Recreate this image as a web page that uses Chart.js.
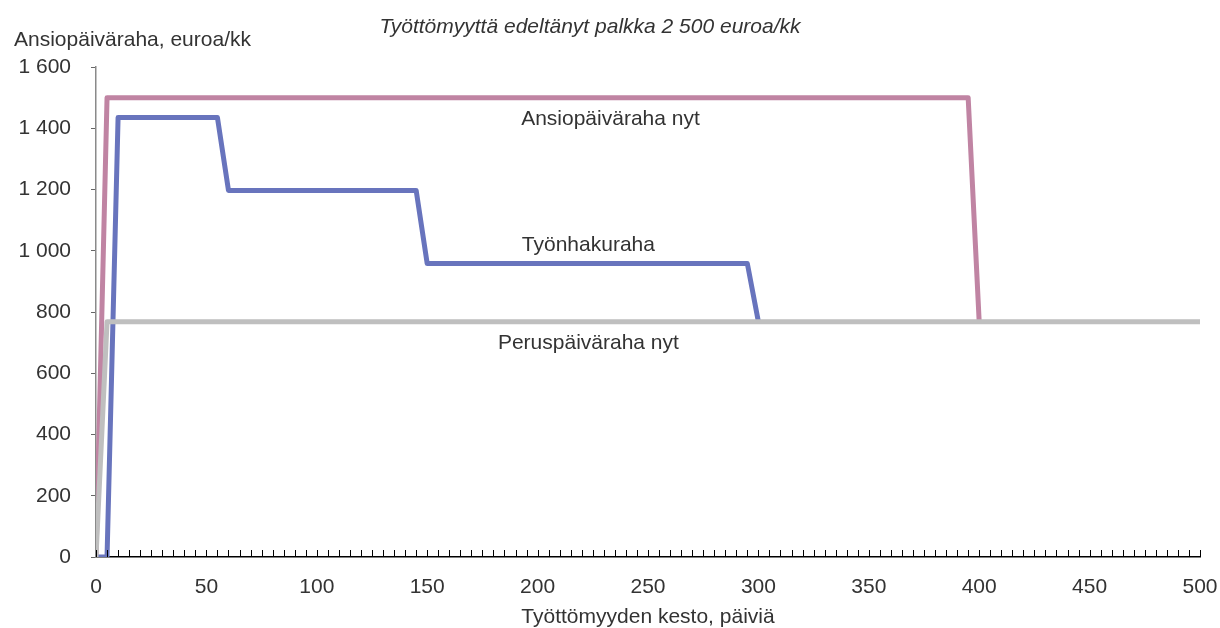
<!DOCTYPE html>
<html>
<head>
<meta charset="utf-8">
<script src="https://cdn.jsdelivr.net/npm/chart.js@4/dist/chart.umd.min.js"></script>
<style>
  html, body { margin: 0; padding: 0; background: #fff; }
  #wrap { width: 1220px; height: 628px; position: relative; }
</style>
</head>
<body>
<div id="wrap"><canvas id="chart" width="1220" height="628"></canvas></div>
<script>
// ==================== Data ====================

const CHART_TITLE = "Työttömyyttä edeltänyt palkka 2 500 euroa/kk";
const Y_TITLE = "Ansiopäiväraha, euroa/kk";
const X_TITLE = "Työttömyyden kesto, päiviä";

// Ansiopäiväraha nyt
const ansioDays = [0, 5, 395, 400];
const ansioValues = [0, 1500, 1500, 768];

// Työnhakuraha
const hakuDays = [0, 5, 10, 55, 60, 145, 150, 295, 300];
const hakuValues = [0, 0, 1435, 1435, 1197, 1197, 958, 958, 768];

// Peruspäiväraha nyt
const perusDays = [0, 5, 500];
const perusValues = [0, 768, 768];

const seriesNames = ["Ansiopäiväraha nyt", "Työnhakuraha", "Peruspäiväraha nyt"];
// label anchors in data units (day, euro)
const labelDays = [233, 223, 223];
const labelValues = [1430, 1019, 699];

const FONT = "'Liberation Sans', Arial, sans-serif";
const TEXT = "#333333";

function toPoints(xs, ys) {
  return xs.map((x, i) => ({ x, y: ys[i] }));
}

function fmtThousands(v) {
  return String(v).replace(/\B(?=(\d{3})+(?!\d))/g, " ");
}

// ==================== Plugins ====================

const textPlugin = {
  id: "texts",
  afterDraw(chart) {
    const { ctx, chartArea, scales } = chart;
    ctx.save();
    ctx.fillStyle = TEXT;
    ctx.textBaseline = "middle";

    ctx.font = `italic 21px ${FONT}`;
    ctx.textAlign = "center";
    ctx.fillText(CHART_TITLE, 590, 27);

    ctx.font = `21px ${FONT}`;
    ctx.textAlign = "left";
    ctx.fillText(Y_TITLE, 14, 40);

    ctx.textAlign = "center";
    ctx.fillText(X_TITLE, (chartArea.left + chartArea.right) / 2, 617);

    seriesNames.forEach((name, i) => {
      ctx.fillText(name, scales.x.getPixelForValue(labelDays[i]), scales.y.getPixelForValue(labelValues[i]));
    });

    // inward minor ticks on x axis
    const xs = scales.x;
    ctx.strokeStyle = "#000";
    ctx.lineWidth = 1;
    xs.ticks.forEach((t) => {
      const px = Math.round(xs.getPixelForValue(t.value)) + 0.5;
      ctx.beginPath();
      ctx.moveTo(px, chartArea.bottom);
      ctx.lineTo(px, chartArea.bottom - 7);
      ctx.stroke();
    });
    ctx.restore();
  },
};

// ==================== Chart ====================

function makeDataset(label, xs, ys, color, order) {
  return {
    label,
    data: toPoints(xs, ys),
    borderColor: color,
    backgroundColor: color,
    borderWidth: 5,
    pointRadius: 0,
    tension: 0,
    fill: false,
    order,
    borderJoinStyle: "round",
  };
}

new Chart(document.getElementById("chart"), {
  type: "line",
  data: {
    datasets: [
      makeDataset(seriesNames[0], ansioDays, ansioValues, "#C084A3", 3),
      makeDataset(seriesNames[1], hakuDays, hakuValues, "#6874BD", 2),
      makeDataset(seriesNames[2], perusDays, perusValues, "#BFBFBF", 1),
    ],
  },
  options: {
    responsive: false,
    animation: false,
    devicePixelRatio: 1,
    layout: { padding: { top: 67, right: 20, left: 0, bottom: 0 } },
    plugins: {
      legend: { display: false },
      tooltip: { enabled: false },
    },
    scales: {
      x: {
        type: "linear",
        min: 0,
        max: 500,
        afterFit: (s) => { s.height = 71; s.paddingLeft = 0; s.paddingRight = 0; },
        border: { color: "#000", width: 1.5 },
        grid: { display: true, drawOnChartArea: false, drawTicks: false, color: "transparent" },
        ticks: {
          stepSize: 5,
          autoSkip: false,
          maxRotation: 0,
          padding: 18,
          color: TEXT,
          font: { family: FONT, size: 21 },
          callback: (v) => (v % 50 === 0 ? String(v) : ""),
        },
      },
      y: {
        min: 0,
        max: 1600,
        afterFit: (s) => { s.width = 96; s.paddingTop = 0; s.paddingBottom = 0; },
        border: { color: "#8a8a8a", width: 1.5 },
        grid: { drawOnChartArea: false, drawTicks: true, tickLength: 5, color: "#666" },
        ticks: {
          stepSize: 200,
          padding: 20,
          color: TEXT,
          font: { family: FONT, size: 21 },
          callback: (v) => fmtThousands(v),
        },
      },
    },
  },
  plugins: [textPlugin],
});
</script>
</body>
</html>
